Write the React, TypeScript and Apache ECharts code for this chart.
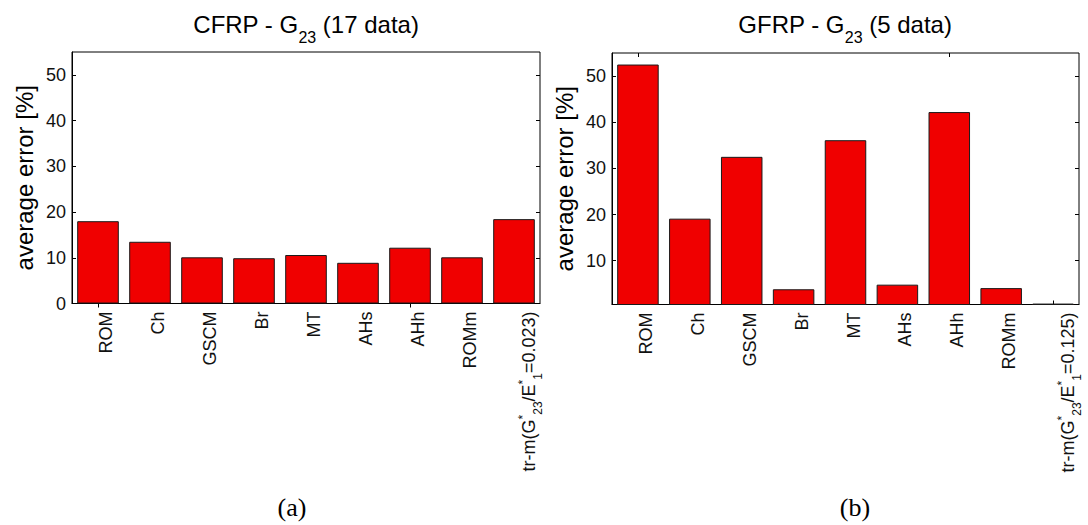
import React, { useEffect, useRef } from "react";
import * as echarts from "echarts";

const methodLabels = ["ROM", "Ch", "GSCM", "Br", "MT", "AHs", "AHh", "ROMm"];
const trmLabelA = "tr-m(G{sup|*}{sub|23}/E{sup|*}{sub|1}=0.023)";
const trmLabelB = "tr-m(G{sup|*}{sub|23}/E{sup|*}{sub|1}=0.125)";
const cfrpValues = [18.0, 13.5, 10.1, 9.9, 10.6, 8.9, 12.2, 10.1, 18.45];
const gfrpValues = [52.5, 19.1, 32.5, 3.8, 36.1, 4.8, 42.2, 4.05, 0.7];
const cfrpTicks = [0, 10, 20, 30, 40, 50];
const gfrpTicks = [10, 20, 30, 40, 50];
const titleA = "CFRP - G{sub|23} (17 data)";
const titleB = "GFRP - G{sub|23} (5 data)";
const yName = "average error [%]";

const SANS = "'Liberation Sans', Arial, sans-serif";
const SERIF = "'Liberation Serif', 'Times New Roman', serif";

export default function App() {
  const ref = useRef<HTMLDivElement>(null);
  useEffect(() => {
    if (!ref.current) return;
    const chart = echarts.init(ref.current, null, { renderer: "svg" });
    const grids = [
      { left: 72, top: 52, width: 468, height: 251.5 },
      { left: 612, top: 53, width: 467, height: 251.5 },
    ];
    const labelRich = {
      sub: { fontSize: 12, fontFamily: SANS, color: "#111", padding: [18, 0, 0, 0] },
      sup: { fontSize: 12, fontFamily: SANS, color: "#111", padding: [0, 0, 12, 0] },
    };
    const cats = (last: string) => [
      ...methodLabels,
      { value: last, textStyle: { padding: [30, 0, 0, 0] } },
    ];
    const xAxes: any[] = [];
    const yAxes: any[] = [];
    [trmLabelA, trmLabelB].forEach((last, gi) => {
      xAxes.push({
        gridIndex: gi,
        type: "category",
        position: "bottom",
        data: cats(last),
        axisLine: { show: true, lineStyle: { color: "#000", width: 1 } },
        axisTick: { show: true, inside: true, alignWithLabel: true, length: 4, lineStyle: { color: "#000" } },
        axisLabel: {
          rotate: 90,
          margin: 8,
          interval: 0,
          fontSize: 18,
          fontFamily: SANS,
          color: "#111",
          padding: [16, 0, 0, 0],
          rich: labelRich,
        },
        splitLine: { show: false },
      });
      xAxes.push({
        gridIndex: gi,
        type: "category",
        position: "top",
        data: cats(last),
        axisLine: { show: false },
        axisTick: { show: true, inside: true, alignWithLabel: true, length: 4, lineStyle: { color: "#000" } },
        axisLabel: { show: false },
        splitLine: { show: false },
      });
      const ticks = gi === 0 ? cfrpTicks : gfrpTicks;
      const min = gi === 0 ? 0 : 0.5;
      yAxes.push({
        gridIndex: gi,
        type: "value",
        position: "left",
        min,
        max: 55,
        name: yName,
        nameLocation: "middle",
        nameGap: 36,
        nameTextStyle: { fontSize: 24, fontFamily: SANS, color: "#000" },
        axisLine: { show: true, lineStyle: { color: "#000", width: 1 } },
        axisTick: { show: true, inside: true, length: 4, customValues: ticks, lineStyle: { color: "#000" } },
        axisLabel: { customValues: ticks, fontSize: 18, fontFamily: SANS, color: "#111", margin: 6 },
        splitLine: { show: false },
      });
      yAxes.push({
        gridIndex: gi,
        type: "value",
        position: "right",
        min,
        max: 55,
        axisLine: { show: false },
        axisTick: { show: true, inside: true, length: 4, customValues: ticks, lineStyle: { color: "#000" } },
        axisLabel: { show: false },
        splitLine: { show: false },
      });
    });

    const titleStyle = {
      fontFamily: SANS,
      fontSize: 24,
      fontWeight: "normal",
      color: "#000",
      rich: {
        sub: { fontSize: 16, fontFamily: SANS, color: "#000", padding: [26, 0, 0, 0] },
      },
    };

    const barStyle = { color: "#f00000", borderColor: "#1a1a1a", borderWidth: 1 };

    chart.setOption({
      animation: false,
      backgroundColor: "#fff",
      title: [
        { text: titleA, left: 306, top: 3, padding: 0, textAlign: "center", textStyle: titleStyle },
        { text: titleB, left: 845, top: 3, padding: 0, textAlign: "center", textStyle: titleStyle },
        {
          text: "(a)", left: 292, top: 494, padding: 0, textAlign: "center",
          textStyle: { fontFamily: SERIF, fontSize: 26, fontWeight: "normal", color: "#000" },
        },
        {
          text: "(b)", left: 855, top: 494, padding: 0, textAlign: "center",
          textStyle: { fontFamily: SERIF, fontSize: 26, fontWeight: "normal", color: "#000" },
        },
      ],
      grid: grids.map((g) => ({ ...g, show: true, borderColor: "#000", borderWidth: 1, backgroundColor: "transparent", containLabel: false })),
      xAxis: xAxes,
      yAxis: yAxes,
      series: [
        { type: "bar", xAxisIndex: 0, yAxisIndex: 0, data: cfrpValues, barCategoryGap: "20%", itemStyle: barStyle },
        { type: "bar", xAxisIndex: 2, yAxisIndex: 2, data: gfrpValues, barCategoryGap: "20%", itemStyle: barStyle },
      ],
    });
    return () => chart.dispose();
  }, []);
  return <div ref={ref} style={{ position: "fixed", left: 0, top: 0, width: 1088, height: 525, background: "#fff" }} />;
}
